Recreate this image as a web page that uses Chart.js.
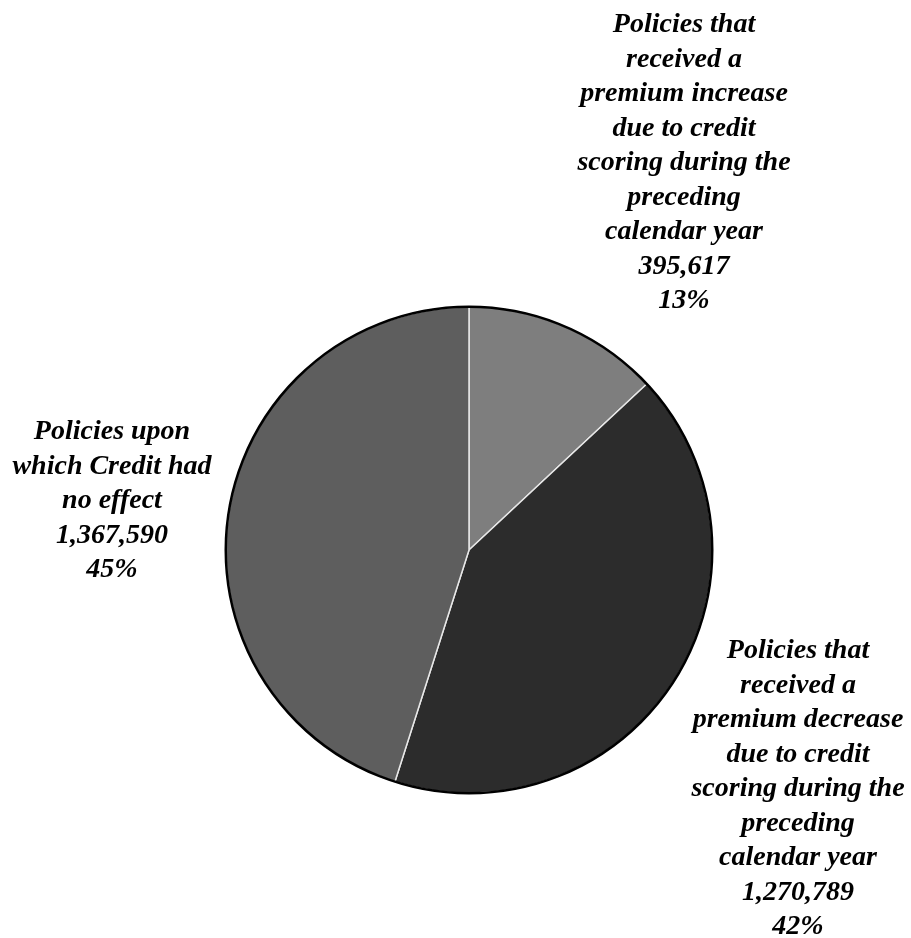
<!DOCTYPE html>
<html>
<head>
<meta charset="utf-8">
<script src="https://cdn.jsdelivr.net/npm/chart.js@4/dist/chart.umd.min.js"></script>
<style>
    html, body { margin: 0; padding: 0; background: #ffffff; }
    #wrap { width: 911px; height: 938px; position: relative; }
</style>
</head>
<body>
<div id="wrap"><canvas id="creditChart"></canvas></div>
<script>
// Categorias (cada linha do rótulo em separado)
const categories = [
    ['Policies that', 'received a', 'premium increase', 'due to credit', 'scoring during the', 'preceding', 'calendar year'],
    ['Policies that', 'received a', 'premium decrease', 'due to credit', 'scoring during the', 'preceding', 'calendar year'],
    ['Policies upon', 'which Credit had', 'no effect']
];
// Número de apólices por categoria
const policyCounts = [395617, 1270789, 1367590];
const sliceColors = ['#7e7e7e', '#2c2c2c', '#5e5e5e'];

// Posição dos blocos de texto (centro x, y da primeira linha)
const labelAnchors = [
    { x: 684, y: 25 },
    { x: 798, y: 651 },
    { x: 112, y: 432 }
];
const lineHeight = 34.5;

const total = policyCounts.reduce((a, b) => a + b, 0);

// Contorno preto em volta da pizza
const outlinePlugin = {
    id: 'outline',
    afterDatasetsDraw(chart) {
        const arc = chart.getDatasetMeta(0).data[0];
        if (!arc) return;
        const ctx = chart.ctx;
        ctx.save();
        ctx.beginPath();
        ctx.arc(arc.x, arc.y, arc.outerRadius, 0, Math.PI * 2);
        ctx.lineWidth = 2.5;
        ctx.strokeStyle = '#000000';
        ctx.stroke();
        ctx.restore();
    }
};

// Rótulos com nome, valor e percentual
const sliceLabelPlugin = {
    id: 'sliceLabels',
    afterDraw(chart) {
        const ctx = chart.ctx;
        const labels = chart.data.labels;
        const values = chart.data.datasets[0].data;
        ctx.save();
        ctx.font = 'italic bold 28px "Liberation Serif", "Times New Roman", serif';
        ctx.fillStyle = '#000000';
        ctx.textAlign = 'center';
        ctx.textBaseline = 'middle';
        labels.forEach((lines, i) => {
            const pct = Math.round(values[i] / total * 100) + '%';
            const all = lines.concat([values[i].toLocaleString('en-US'), pct]);
            const a = labelAnchors[i];
            all.forEach((line, j) => {
                ctx.fillText(line, a.x, a.y + j * lineHeight);
            });
        });
        ctx.restore();
    }
};

const ctx = document.getElementById('creditChart');
new Chart(ctx.getContext('2d'), {
    type: 'pie',
    data: {
        labels: categories,
        datasets: [{
            data: policyCounts,
            backgroundColor: sliceColors,
            borderColor: '#e8e8e8',
            borderWidth: 1.5
        }]
    },
    options: {
        responsive: true,
        maintainAspectRatio: false,
        animation: false,
        layout: {
            padding: { left: 225, right: 198, top: 306, bottom: 144 }
        },
        plugins: {
            legend: { display: false },
            tooltip: { enabled: false }
        }
    },
    plugins: [outlinePlugin, sliceLabelPlugin]
});
</script>
</body>
</html>
